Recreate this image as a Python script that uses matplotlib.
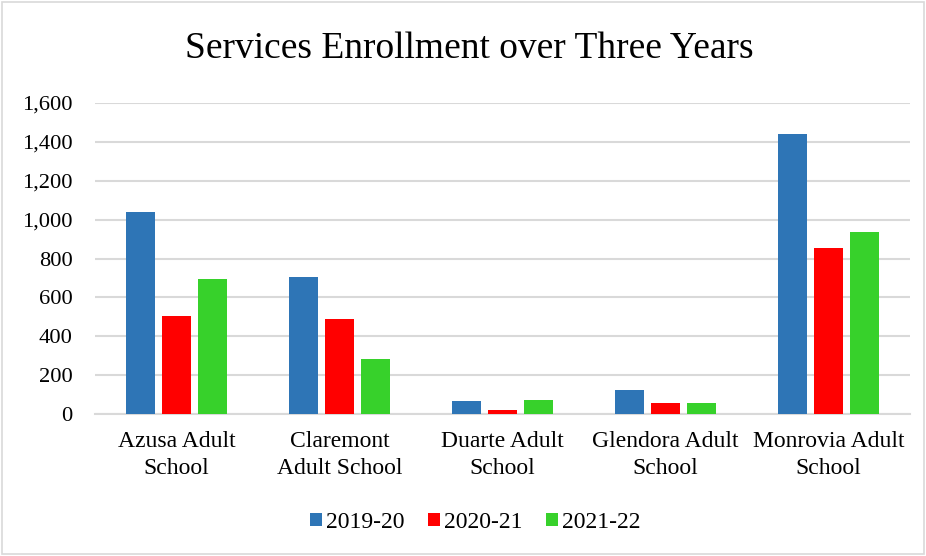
import numpy as np
import matplotlib.pyplot as plt
from matplotlib.patches import Rectangle

schools = ['Azusa Adult\nSchool', 'Claremont\nAdult School', 'Duarte Adult\nSchool',
           'Glendora Adult\nSchool', 'Monrovia Adult\nSchool']
y2019 = [1040, 705, 65, 123, 1441]
y2020 = [504, 488, 22, 55, 853]
y2021 = [694, 281, 70, 58, 936]
years = ['2019-20', '2020-21', '2021-22']
colors = ['#2E75B6', '#FF0000', '#37D12B']

plt.rcParams['font.family'] = ['Liberation Serif', 'DejaVu Serif']

fig = plt.figure(figsize=(9.26, 5.56), dpi=100)
ax = fig.add_axes([0.1026, 0.2554, 0.8801, 0.5593])

x = np.arange(len(schools))
w = 0.178
step = 0.22
for i, (vals, lab, c) in enumerate(zip([y2019, y2020, y2021], years, colors)):
    ax.bar(x + (i - 1) * step, vals, w, color=c, label=lab, zorder=3)

ax.set_xlim(-0.5, len(schools) - 0.5)
ax.set_ylim(0, 1600)
ax.set_yticks(range(0, 1601, 200))
ax.set_yticklabels([f'{v:,}' for v in range(0, 1601, 200)], fontsize=16.2)
ax.set_xticks(x)
ax.set_xticklabels(schools, fontsize=17, linespacing=1.38)
ax.tick_params(length=0, pad=12.5)
ax.tick_params(axis='y', pad=16)
ax.grid(axis='y', color='#d9d9d9', linewidth=1.5, zorder=0)
for s in ['left', 'right', 'top']:
    ax.spines[s].set_visible(False)
ax.spines['bottom'].set_color('#d9d9d9')
ax.spines['bottom'].set_linewidth(1.5)

fig.text(0.507, 0.912, 'Services Enrollment over Three Years', ha='center', va='center', fontsize=27)

fig.legend(loc='center', bbox_to_anchor=(0.513, 0.06), ncol=3, frameon=False, fontsize=17,
           handlelength=0.5, handleheight=0.5, handletextpad=0.17, columnspacing=1.0)

fig.patches.append(Rectangle((0.002, 0.003), 0.996, 0.994, transform=fig.transFigure,
                             fill=False, edgecolor='#d9d9d9', linewidth=1.2))

fig.savefig('out.png', dpi=100)
